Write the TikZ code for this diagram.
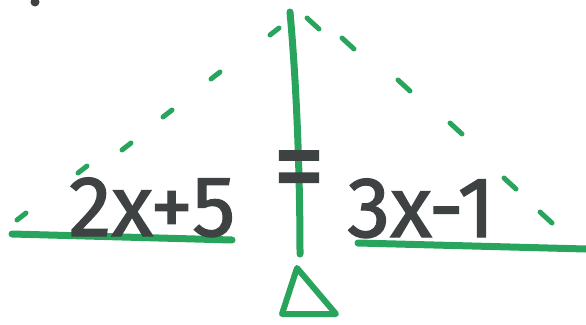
\documentclass[tikz,border=0pt]{standalone}
\usepackage{fontspec}
\newfontfamily\handfont{Fira Sans}[FakeBold=1.6]
\definecolor{marker}{RGB}{40,164,92}
\definecolor{pencil}{RGB}{62,66,66}
\tikzset{
  stroke/.style={draw=marker, line width=7pt, line cap=round, line join=round},
  dashmark/.style={draw=marker, line width=5pt, line cap=round},
  term/.style={text=pencil, font=\handfont\fontsize{86}{86}\selectfont, inner sep=0pt, anchor=base}
}
\begin{document}
\begin{tikzpicture}[x=1pt, y=-1pt]
    \useasboundingbox (0,0) rectangle (586,324);

    % Pencil dot in the corner
    \fill[pencil] (35,2) circle (4.5);

    % Roof of the balance (hand drawn dashes)
    \foreach \a/\b in {270/35, 211/79, 163/117, 122/150, 78/173, 17/220}
      \draw[dashmark] (\a,\b) -- ++(9,-7);
    \foreach \a/\b in {307/18, 342/38, 398/80, 450/123, 504/178, 540/212}
      \draw[dashmark] (\a,\b) -- ++(12,11);

    % Coordinates
    \coordinate (top) at (290,12);
    \coordinate (foot) at (300,254);
    \coordinate (L1) at (12,234);
    \coordinate (L2) at (232,240);
    \coordinate (R1) at (358,243);
    \coordinate (R2) at (586,249);

    % Post and the two pans
    \draw[stroke] (top) .. controls (297,90) and (300,180) .. (foot);
    \draw[stroke] (L1) -- (L2);
    \draw[stroke] (R1) -- (R2);

    % Fulcrum
    \draw[stroke, line width=6pt] (297,268) -- (336,314) -- (282,314) -- cycle;

    % Both sides
    \node[term] (lhs) at (152,236) {2x+5};
    \node[term, anchor=center, xscale=1.2, yscale=1.35] (eq) at (299,178) {=};
    \node[term] (rhs) at (421,237) {3x-1};
  \end{tikzpicture}
\end{document}
